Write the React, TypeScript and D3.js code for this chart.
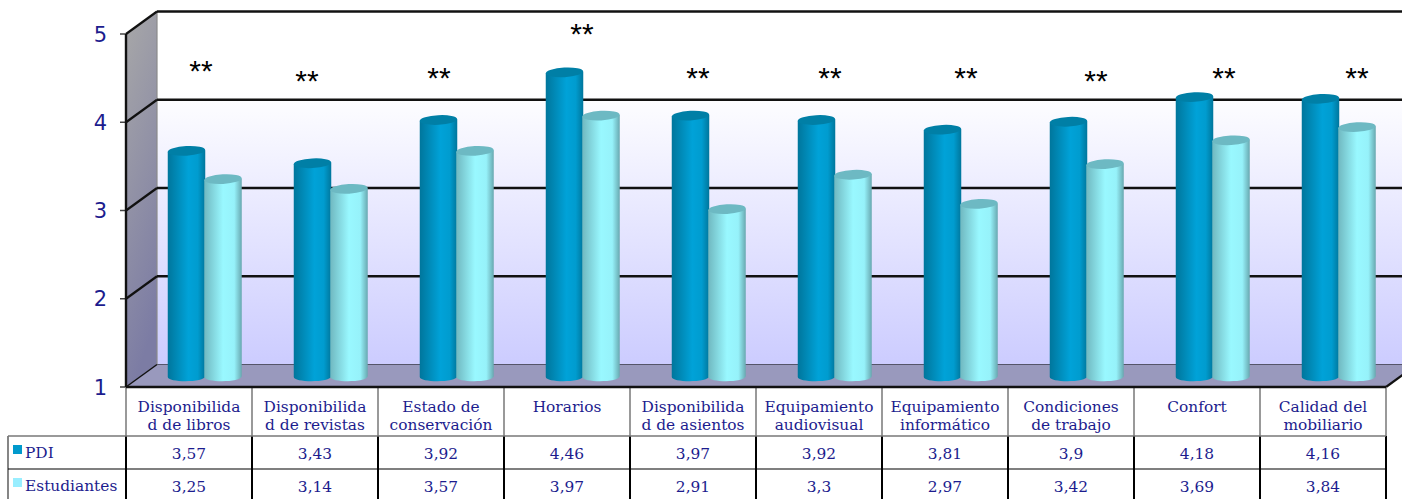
import React from "react";
import * as d3 from "d3";

const categories = [
  ["Disponibilida", "d de libros"],
  ["Disponibilida", "d de revistas"],
  ["Estado de", "conservación"],
  ["Horarios"],
  ["Disponibilida", "d de asientos"],
  ["Equipamiento", "audiovisual"],
  ["Equipamiento", "informático"],
  ["Condiciones", "de trabajo"],
  ["Confort"],
  ["Calidad del", "mobiliario"],
];
const pdi = [3.57, 3.43, 3.92, 4.46, 3.97, 3.92, 3.81, 3.9, 4.18, 4.16];
const estudiantes = [3.25, 3.14, 3.57, 3.97, 2.91, 3.3, 2.97, 3.42, 3.69, 3.84];
const yTicks = [1, 2, 3, 4, 5];
const starLevels = [4.57, 4.46, 4.49, 4.99, 4.49, 4.49, 4.49, 4.46, 4.49, 4.49];
const starShift = [12, -8, -2, 15, 5, 11, 21, 25, 27, 34];

const W = 1402, H = 499;
const FRONT_L = 126, FRONT_R = 1386, DX = 31, DY = -22.5;
const NAVY = "#1c1c8e";
const indices = d3.range(categories.length);
const x = d3.scaleBand<number>().domain(indices).range([FRONT_L, FRONT_R]);
const y = d3.scaleLinear().domain([1, 5]).range([387, 34]);
const BAR_W = 37.5, TOP_DY = -8.5, BOTTOM_DY = -10, RY = 4.8;

function cylinder(cx: number, top: number, bottom: number) {
  const r = BAR_W / 2;
  const p = d3.path();
  p.moveTo(cx - r, top);
  p.lineTo(cx - r, bottom);
  p.bezierCurveTo(cx - r, bottom + RY * 1.2, cx + r, bottom + RY * 1.2, cx + r, bottom - 1);
  p.lineTo(cx + r, top - 1.5);
  p.closePath();
  return p.toString();
}

function Bars({ values, dx, fill, cap }: { values: number[]; dx: number; fill: string; cap: string }) {
  return (
    <g>
      {values.map((v, i) => {
        const cx = (x(i) as number) + dx;
        const top = y(v) + TOP_DY;
        const bottom = y(1) + BOTTOM_DY;
        return (
          <g key={i}>
            <path d={cylinder(cx, top, bottom)} fill={`url(#${fill})`} />
            <ellipse cx={cx} cy={top - 0.8} rx={BAR_W / 2} ry={RY} fill={cap} transform={`rotate(-3 ${cx} ${top})`} />
          </g>
        );
      })}
    </g>
  );
}

export default function App() {
  const backTop = y(5) + DY, backBottom = y(1) + DY;
  const colEdges = [...indices.map((i) => x(i) as number), FRONT_R];
  const rowY = [387, 436, 469, 503];
  const serif = "'DejaVu Serif'";
  const tableSize = 15.4;
  return (
    <svg width={W} height={H} style={{ position: "fixed", left: 0, top: 0, display: "block", background: "#fff" }}>
      <defs>
        <linearGradient id="wall" x1="0" y1="0" x2="0" y2="1">
          <stop offset="0" stopColor="#ffffff" />
          <stop offset="0.22" stopColor="#ffffff" />
          <stop offset="1" stopColor="#ccccff" />
        </linearGradient>
        <linearGradient id="side" x1="0" y1="0" x2="0.25" y2="1">
          <stop offset="0" stopColor="#a8a8a8" />
          <stop offset="1" stopColor="#7c7ca4" />
        </linearGradient>
        <linearGradient id="dark" x1="0" y1="0" x2="1" y2="0">
          <stop offset="0" stopColor="#00769c" />
          <stop offset="0.55" stopColor="#00a2d8" />
          <stop offset="0.8" stopColor="#009ccf" />
          <stop offset="1" stopColor="#00769c" />
        </linearGradient>
        <linearGradient id="light" x1="0" y1="0" x2="1" y2="0">
          <stop offset="0" stopColor="#70b8c0" />
          <stop offset="0.5" stopColor="#99f8ff" />
          <stop offset="0.8" stopColor="#96f2fa" />
          <stop offset="1" stopColor="#68a8b0" />
        </linearGradient>
      </defs>

      <rect x={FRONT_L + DX} y={backTop} width={W} height={backBottom - backTop} fill="url(#wall)" />
      <polygon
        points={`${FRONT_L},${y(5)} ${FRONT_L + DX},${backTop} ${FRONT_L + DX},${backBottom} ${FRONT_L},${y(1)}`}
        fill="url(#side)"
      />
      <polygon
        points={`${FRONT_L},${y(1)} ${FRONT_L + DX},${backBottom} ${FRONT_R + DX},${backBottom} ${FRONT_R},${y(1)}`}
        fill="#9999bd"
      />
      <line x1={FRONT_L + DX} x2={W} y1={backBottom} y2={backBottom} stroke="#55556a" strokeWidth={1.2} />
      <line x1={FRONT_L + DX} x2={FRONT_L + DX} y1={backTop} y2={backBottom} stroke="#8a8a8a" strokeWidth={1.2} />

      {yTicks.map((t) => (
        <g key={t}>
          {t > 1 && <line x1={FRONT_L + DX} x2={W} y1={y(t) + DY} y2={y(t) + DY} stroke="#111" strokeWidth={2.6} />}
          <line x1={FRONT_L} x2={FRONT_L + DX} y1={y(t)} y2={y(t) + DY} stroke="#111" strokeWidth={t === 1 ? 1.5 : 2.2} />
          <line x1={FRONT_L - 6} x2={FRONT_L} y1={y(t)} y2={y(t)} stroke="#444" strokeWidth={1.5} />
          <text x={107} y={y(t) + 0.5} dominantBaseline="central" textAnchor="end" fontFamily="'DejaVu Sans'" fontSize={21} fill={NAVY}>
            {t}
          </text>
        </g>
      ))}

      <line x1={FRONT_R} x2={FRONT_R + DX} y1={y(1)} y2={y(1) + DY} stroke="#111" strokeWidth={2.2} />
      <Bars values={pdi} dx={60.5} fill="dark" cap="#007fa6" />
      <Bars values={estudiantes} dx={97} fill="light" cap="#6db9c3" />

      {indices.map((i) => (
        <text key={i} x={(x(i) as number) + x.bandwidth() / 2 + starShift[i]} y={y(starLevels[i]) + 9} textAnchor="middle"
          fontFamily="'Liberation Sans'" fontSize={30} fill="#000">
          **
        </text>
      ))}

      {/* data table */}
      <g fill="none">
        {colEdges.map((cx) => (
          <line key={cx} x1={cx} x2={cx} y1={387} y2={436} stroke="#777" strokeWidth={1.5} />
        ))}
        {colEdges.map((cx) => (
          <line key={cx} x1={cx} x2={cx} y1={436} y2={H} stroke="#000" strokeWidth={2} />
        ))}
        <line x1={8} x2={8} y1={436} y2={H} stroke="#444" strokeWidth={1.3} />
        <line x1={8} x2={FRONT_R} y1={rowY[1]} y2={rowY[1]} stroke="#777" strokeWidth={1.3} />
        <line x1={8} x2={FRONT_R} y1={rowY[2]} y2={rowY[2]} stroke="#000" strokeWidth={1.2} />
      </g>
      <line x1={FRONT_L} x2={FRONT_L} y1={y(5)} y2={y(1)} stroke="#111" strokeWidth={2.4} />
      <line x1={FRONT_L} x2={FRONT_R} y1={y(1)} y2={y(1)} stroke="#111" strokeWidth={2.6} />

      {categories.map((lines, i) => (
        <text key={i} textAnchor="middle" fontFamily={serif} fontSize={tableSize} fill={NAVY}>
          {lines.map((l, k) => (
            <tspan key={k} x={(x(i) as number) + x.bandwidth() / 2} y={412 + k * 18}>
              {l}
            </tspan>
          ))}
        </text>
      ))}
      {[pdi, estudiantes].map((row, r) =>
        row.map((v, i) => (
          <text key={`${r}-${i}`} x={(x(i) as number) + x.bandwidth() / 2} y={rowY[r + 1] + 23} textAnchor="middle"
            fontFamily={serif} fontSize={tableSize} fill={NAVY}>
            {String(v).replace(".", ",")}
          </text>
        ))
      )}
      <rect x={13} y={445} width={9} height={9} fill="#0099cc" />
      <text x={25} y={458} fontFamily={serif} fontSize={tableSize} fill={NAVY}>PDI</text>
      <rect x={13} y={478} width={9} height={9} fill="#99eeff" />
      <text x={25} y={491} fontFamily={serif} fontSize={tableSize} fill={NAVY}>Estudiantes</text>
    </svg>
  );
}
